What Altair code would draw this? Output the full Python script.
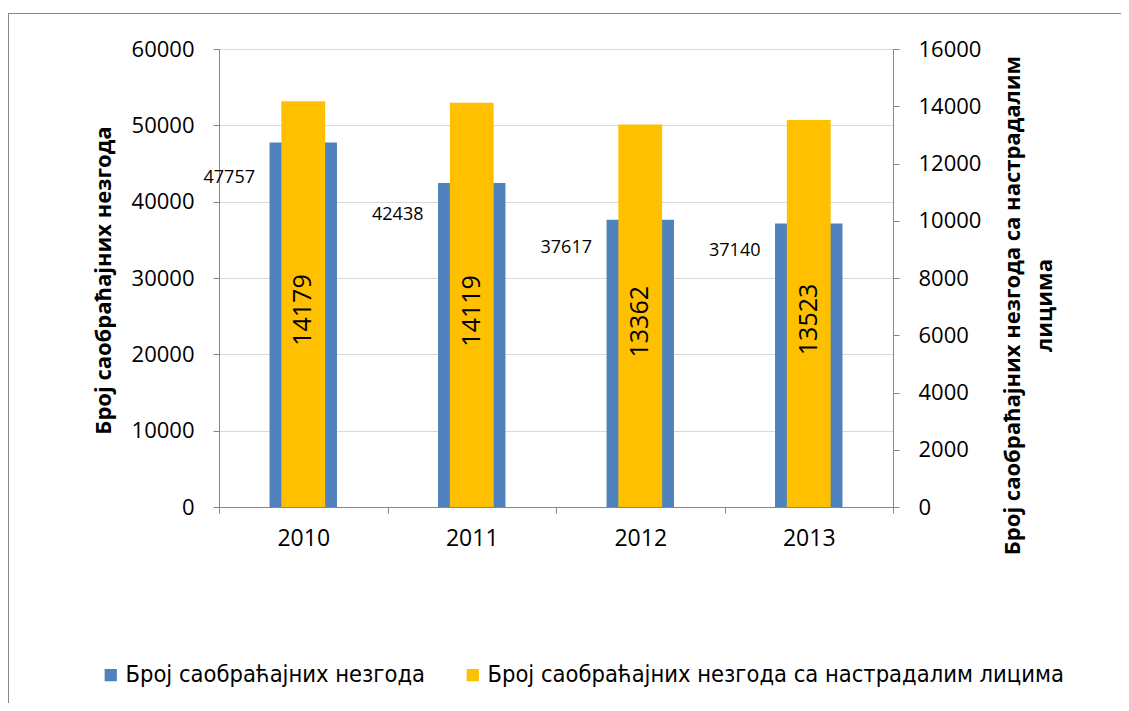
import altair as alt
import pandas as pd

years = ["2010", "2011", "2012", "2013"]
accidents = [47757, 42438, 37617, 37140]
injured = [14179, 14119, 13362, 13523]
series1 = "Број саобраћајних незгода"
series2 = "Број саобраћајних незгода са настрадалим лицима"
left_ticks = [0, 10000, 20000, 30000, 40000, 50000, 60000]
right_ticks = [0, 2000, 4000, 6000, 8000, 10000, 12000, 14000, 16000]
left_title = "Број саобраћајних незгода"
right_title = ["Број саобраћајних незгода са настрадалим", "лицима"]

FONT = "Open Sans"
NARROW = "Liberation Sans Narrow, Arial Narrow, DejaVu Sans Condensed, sans-serif"
GREY = "#868686"

df1 = pd.DataFrame({"year": years, "v": accidents, "series": series1})
df2 = pd.DataFrame({"year": years, "v": injured, "series": series2})

xenc = alt.X(
    "year:N",
    scale=alt.Scale(paddingInner=0, paddingOuter=0),
    axis=alt.Axis(
        title=None, labelAngle=0, labelFontSize=23, labelFont=FONT, labelColor="black",
        tickBand="extent", tickSize=6, tickColor=GREY, domainColor=GREY,
        labelPadding=14, grid=False,
    ),
)

left_axis = alt.Axis(
    orient="left", values=left_ticks, format="d", grid=True, gridColor="#d9d9d9",
    domainColor=GREY, tickColor=GREY, tickSize=6, labelFontSize=22, labelFont=FONT,
    labelColor="black", labelPadding=19,
    title=left_title, titleFont=FONT, titleFontSize=22, titleFontWeight="bold",
    titleColor="black", titleAngle=270, titleAlign="center", titleBaseline="middle",
    titleX=-116, titleY=231,
)
right_axis = alt.Axis(
    orient="right", values=right_ticks, format="d", grid=False,
    domainColor=GREY, tickColor=GREY, tickSize=6, labelFontSize=22, labelFont=FONT,
    labelColor="black", labelPadding=19,
    title=right_title, titleFont=FONT, titleFontSize=22, titleFontWeight="bold",
    titleColor="black", titleAngle=270, titleAlign="center", titleBaseline="top",
    titleX=109, titleY=256, titleLineHeight=32,
)

lscale = alt.Scale(domain=[0, 60000], nice=False, zero=True)
rscale = alt.Scale(domain=[0, 16000], nice=False, zero=True)

color = alt.Color(
    "series:N",
    scale=alt.Scale(domain=[series1, series2], range=["#4f81bd", "#ffc000"]),
    legend=alt.Legend(
        title=None, orient="none", direction="horizontal", legendX=-120, legendY=614,
        symbolType="square", symbolSize=150, symbolStrokeWidth=0, labelFont=NARROW,
        labelFontSize=23.5, labelColor="black", labelLimit=0, labelOffset=3,
        columnPadding=36,
    ),
)

blue_bar = alt.Chart(df1).mark_bar(width={"band": 0.4}).encode(
    x=xenc, y=alt.Y("v:Q", scale=lscale, axis=left_axis), color=color
)
blue_text = alt.Chart(df1).transform_calculate(lab="datum.v * 0.905").mark_text(
    font=FONT, fontSize=18, color="black", dx=-74, dy=1, align="center", baseline="middle"
).encode(x=xenc, y=alt.Y("lab:Q", scale=lscale, axis=left_axis), text="v:Q")

orange_bar = alt.Chart(df2).mark_bar(width={"band": 0.26}).encode(
    x=xenc, y=alt.Y("v:Q", scale=rscale, axis=right_axis), color=color
)
orange_text = alt.Chart(df2).transform_calculate(mid="datum.v / 2").mark_text(
    font=FONT, fontSize=25, color="black", angle=270, align="center", baseline="middle", dx=-6
).encode(x=xenc, y=alt.Y("mid:Q", scale=rscale, axis=right_axis), text="v:Q")

border_top = alt.Chart(df1).mark_rule(color=GREY, strokeWidth=1).encode(
    x=alt.value(-211), x2=alt.value(905), y=alt.value(-35.5)
)
border_left = alt.Chart(df1).mark_rule(color=GREY, strokeWidth=1).encode(
    x=alt.value(-210.5), y=alt.value(-36), y2=alt.value(660)
)

left = alt.layer(blue_bar, blue_text)
right = alt.layer(orange_bar, orange_text)

chart = alt.layer(left, right, border_top, border_left).resolve_scale(
    y="independent"
).properties(
    width=674, height=458,
    autosize=alt.AutoSizeParams(type="none"),
    padding={"left": 211, "top": 41, "right": 228, "bottom": 196},
).configure_view(stroke=None).configure(background="white")

chart.save("out.html", embed_options={"renderer": "svg", "actions": False})
